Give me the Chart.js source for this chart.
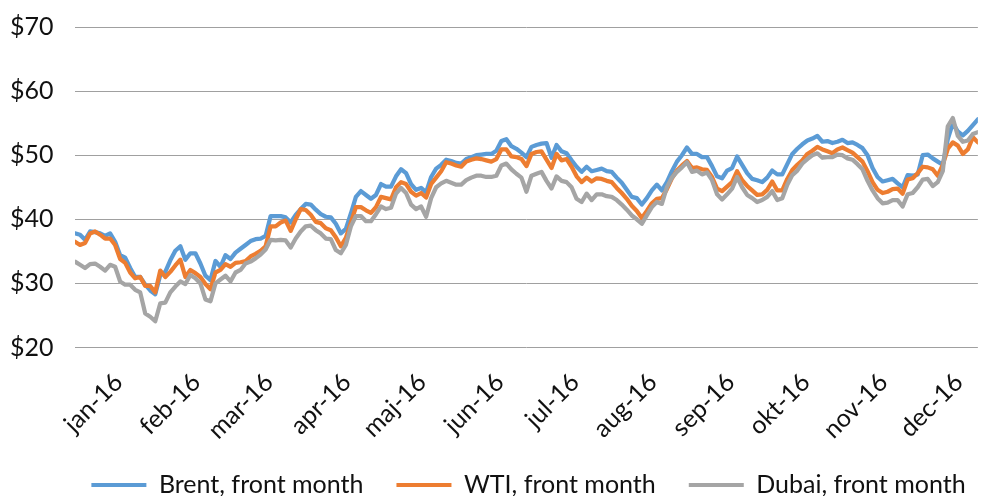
<!DOCTYPE html>
<html>
<head>
<meta charset="utf-8">
<script src="https://cdn.jsdelivr.net/npm/chart.js@4.4.1/dist/chart.umd.min.js"></script>
<style>
  html, body { margin: 0; padding: 0; background: #ffffff; }
  #wrap { width: 989px; height: 496px; }
</style>
</head>
<body>
<div id="wrap"><canvas id="c" width="989" height="496"></canvas></div>
<script>
// ---- Data (USD per barrel), sampled every 2 days starting 19 Dec 2015 ----
const firstDay = -13;   // days relative to 1 Jan 2016
const dayStep = 2;

const seriesNames = ['Brent, front month', 'WTI, front month', 'Dubai, front month'];

const brent = [
  37.8, 37.6, 36.8, 38.1, 38.0, 37.8, 37.4, 37.8, 36.5, 34.4,
  34.0, 32.4, 31.0, 31.0, 29.8, 28.9, 28.3, 31.3, 31.8, 33.6,
  35.1, 35.8, 33.7, 34.7, 34.7, 33.1, 31.2, 30.5, 33.5, 32.6,
  34.4, 33.8, 34.8, 35.4, 36.0, 36.6, 36.9, 37.0, 37.4, 40.5,
  40.5, 40.5, 40.3, 39.5, 40.7, 41.6, 42.4, 42.3, 41.5, 40.8,
  40.4, 40.3, 39.3, 37.8, 38.5, 40.9, 43.5, 44.4, 43.8, 43.2,
  43.8, 45.5, 45.1, 45.1, 46.7, 47.8, 47.2, 45.5, 44.6, 44.9,
  44.2, 46.6, 47.9, 48.5, 49.3, 49.1, 48.8, 48.7, 49.4, 49.7,
  50.0, 50.1, 50.2, 50.2, 50.7, 52.2, 52.5, 51.4, 51.0, 50.4,
  49.7, 51.3, 51.6, 51.8, 51.9, 49.6, 51.6, 50.6, 50.3, 49.2,
  48.2, 47.4, 48.2, 47.5, 47.7, 47.9, 47.5, 47.4, 46.5, 45.7,
  44.6, 43.5, 43.3, 42.3, 43.3, 44.5, 45.4, 44.5, 45.8, 47.5,
  49.0, 50.0, 51.2, 50.2, 50.2, 49.7, 49.7, 48.3, 46.7, 46.4,
  47.6, 48.0, 49.8, 48.5, 47.2, 46.3, 46.1, 45.8, 46.5, 47.6,
  47.0, 47.0, 48.6, 50.2, 51.0, 51.7, 52.3, 52.6, 53.0, 52.1,
  52.2, 51.9, 52.1, 52.4, 51.9, 52.0, 51.6, 51.1, 50.0, 48.0,
  46.6, 45.9, 46.1, 46.3, 45.6, 45.0, 46.9, 46.8, 47.0, 50.0,
  50.1, 49.5, 49.0, 48.5, 52.5, 55.0, 53.7, 53.1, 53.8, 54.7, 55.6
];

const wti = [
  36.5, 36.0, 36.3, 37.8, 38.1, 37.6, 37.0, 37.0, 36.0, 33.8,
  33.2, 31.7, 30.8, 31.0, 29.6, 29.6, 28.6, 32.0, 31.0, 31.8,
  32.8, 33.7, 31.0, 32.1, 31.6, 31.0, 29.9, 29.1, 31.7, 32.1,
  33.0, 32.6, 33.2, 33.3, 33.5, 34.2, 34.6, 35.1, 35.8, 38.9,
  38.9, 39.5, 39.8, 38.2, 40.0, 41.6, 41.45, 40.7, 39.6, 39.4,
  38.6, 38.3, 37.2, 35.8, 37.1, 39.5, 41.9, 41.9, 41.4, 41.0,
  41.9, 43.5, 43.3, 43.1, 45.0, 45.8, 45.5, 44.3, 43.7, 44.1,
  43.4, 45.5, 46.5, 47.5, 48.9, 48.7, 48.4, 48.2, 49.0, 49.3,
  49.5, 49.4, 49.2, 49.0, 49.4, 50.9, 50.9, 49.8, 49.7, 49.4,
  48.3, 50.2, 50.5, 50.6, 49.3, 48.0, 50.2, 49.2, 49.4, 48.2,
  46.7, 45.8, 46.5, 45.9, 46.4, 46.3, 46.0, 45.8, 44.9, 44.1,
  43.2, 42.1, 41.3, 40.2, 41.3, 42.5, 43.2, 43.3, 44.7, 46.4,
  47.6, 48.4, 49.1, 48.0, 48.1, 47.8, 47.7, 46.6, 44.8, 44.4,
  45.1, 45.8, 47.5, 46.1, 45.2, 44.5, 43.8, 43.9, 44.6, 45.9,
  44.5, 44.5, 46.3, 47.7, 48.5, 49.2, 50.2, 50.7, 51.3, 50.9,
  50.6, 50.3, 50.9, 51.2, 50.8, 50.4, 49.7, 49.0, 47.5, 45.8,
  44.6, 44.1, 44.3, 44.7, 44.8, 44.0, 46.2, 46.4, 47.2, 48.2,
  48.1, 47.8, 46.8, 48.5, 51.0, 52.0, 51.5, 50.2, 50.9, 52.8, 52.0
];

const dubai = [
  33.4, 32.9, 32.4, 33.0, 33.1, 32.6, 32.0, 32.9, 32.6, 30.3,
  29.8, 29.8, 29.0, 28.6, 25.3, 24.8, 24.1, 26.9, 27.0, 28.6,
  29.5, 30.3, 29.9, 31.3, 30.8, 30.0, 27.5, 27.2, 30.0, 30.6,
  31.2, 30.3, 31.7, 32.1, 33.1, 33.4, 33.9, 34.5, 35.3, 36.8,
  36.7, 36.8, 36.7, 35.6, 37.0, 38.1, 38.9, 39.0, 38.3, 37.8,
  37.0, 36.9, 35.2, 34.7, 36.0, 38.9, 40.5, 40.5, 39.7, 39.7,
  40.8, 42.0, 41.6, 41.8, 44.0, 44.9, 44.1, 42.3, 41.6, 42.0,
  40.4, 43.3, 45.0, 45.6, 46.0, 45.7, 45.4, 45.4, 46.1, 46.5,
  46.8, 46.8, 46.6, 46.6, 46.8, 48.4, 48.7, 47.8, 47.1, 46.5,
  44.3, 46.8, 47.1, 47.4, 46.0, 44.8, 46.7, 46.0, 45.8, 45.0,
  43.2, 42.7, 44.0, 43.0, 43.9, 43.9, 43.6, 43.5, 43.0, 42.3,
  41.5, 40.6, 40.0, 39.3, 40.6, 41.9, 42.7, 42.4, 45.0, 46.5,
  47.4, 48.1, 48.9, 47.4, 47.6, 47.0, 47.3, 46.1, 43.9, 43.1,
  43.9, 44.8, 46.6, 45.0, 43.8, 43.3, 42.7, 43.0, 43.5, 44.4,
  43.0, 43.3, 45.4, 46.9, 47.6, 48.7, 49.4, 50.0, 50.3, 49.6,
  49.7, 49.7, 50.1, 50.0, 49.5, 49.3, 48.6, 47.8, 46.0, 44.5,
  43.3, 42.5, 42.6, 43.0, 43.0, 42.0, 43.9, 44.1, 45.0, 46.2,
  46.3, 45.2, 45.8, 47.5, 54.5, 55.8, 53.0, 52.1, 52.3, 53.3, 53.6
];

// Month tick labels and their positions (day of 2016, 0 = 1 Jan)
const monthLabels = ['jan-16', 'feb-16', 'mar-16', 'apr-16', 'maj-16', 'jun-16',
                     'jul-16', 'aug-16', 'sep-16', 'okt-16', 'nov-16', 'dec-16'];
const monthStartDays = [0, 31, 60, 91, 121, 152, 182, 213, 244, 274, 305, 335];

// Y axis ticks
const yMin = 20, yMax = 70, yStep = 10;

// ---- Build chart ----
function toPoints(values) {
  return values.map((v, i) => ({ x: firstDay + i * dayStep, y: v }));
}
const lastDay = firstDay + (brent.length - 1) * dayStep;

const FONT = 'Lato, "Open Sans", "Liberation Sans", sans-serif';
const FONT_SIZE = 25;

const colors = ['#5B9BD5', '#ED7D31', '#A5A5A5'];
const seriesValues = [brent, wti, dubai];

const datasets = seriesValues.map((vals, k) => ({
  label: seriesNames[k],
  data: toPoints(vals),
  borderColor: colors[k],
  backgroundColor: colors[k],
  borderWidth: 4.25,
  pointRadius: 0,
  pointHoverRadius: 0,
  tension: 0,
  fill: false,
  borderJoinStyle: 'round',
  borderCapStyle: 'round',
  order: 3 - k
}));

// shifts the (centered) legend row to the right, as in the original layout
const legendShift = {
  id: 'legendShift',
  afterLayout(chart) {
    const lg = chart.legend;
    if (lg) { lg.left += 29; lg.right += 29; }
  }
};

new Chart(document.getElementById('c'), {
  type: 'line',
  data: { datasets },
  plugins: [legendShift],
  options: {
    responsive: false,
    devicePixelRatio: 1,
    animation: false,
    events: [],
    layout: { padding: { top: 27, left: 10, right: 0, bottom: -11.5 } },
    scales: {
      x: {
        type: 'linear',
        min: firstDay,
        max: lastDay,
        afterBuildTicks: (axis) => { axis.ticks = monthStartDays.map(v => ({ value: v })); },
        afterFit: (scale) => { scale.height = 92; },
        grid: { display: false, drawTicks: false },
        border: { display: false },
        ticks: {
          autoSkip: false,
          minRotation: 45,
          maxRotation: 45,
          padding: 20,
          labelOffset: 11,
          color: '#111111',
          font: { family: FONT, size: FONT_SIZE },
          callback: (value) => {
            const idx = monthStartDays.indexOf(value);
            return idx >= 0 ? monthLabels[idx] : '';
          }
        }
      },
      y: {
        min: yMin,
        max: yMax,
        afterFit: (scale) => { scale.width = 65; },
        grid: { color: '#a0a0a0', lineWidth: 1, drawTicks: false },
        border: { display: false },
        ticks: {
          stepSize: yStep,
          padding: 0,
          crossAlign: 'far',
          color: '#111111',
          font: { family: FONT, size: FONT_SIZE },
          callback: (v) => '$' + v
        }
      }
    },
    plugins: {
      tooltip: { enabled: false },
      legend: {
        position: 'bottom',
        align: 'center',
        labels: {
          boxWidth: 55,
          boxHeight: 4,
          padding: 33,
          color: '#111111',
          font: { family: FONT, size: FONT_SIZE },
          sort: (a, b) => a.datasetIndex - b.datasetIndex,
          generateLabels: (chart) => {
            const items = Chart.defaults.plugins.legend.labels.generateLabels(chart);
            items.forEach(it => { it.lineWidth = 0; it.fillStyle = colors[it.datasetIndex]; it.strokeStyle = colors[it.datasetIndex]; });
            return items;
          }
        }
      }
    }
  }
});
</script>
</body>
</html>
